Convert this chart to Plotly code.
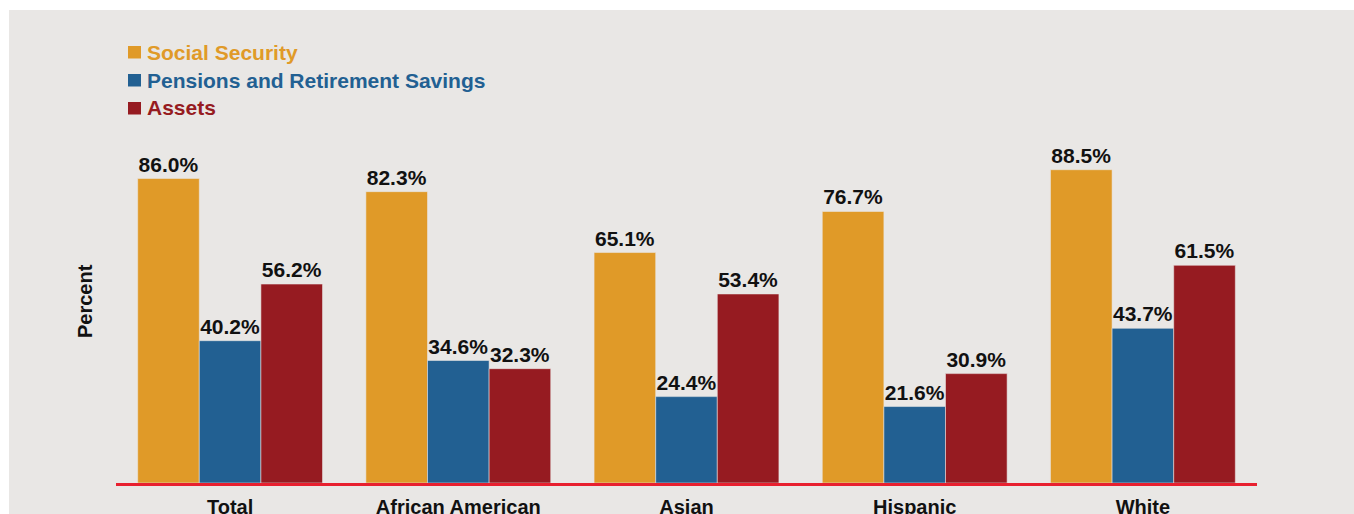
import plotly.graph_objects as go

# Share of older people receiving income from each source, by group
groups = ["Total", "African American", "Asian", "Hispanic", "White"]
social_security = [86.0, 82.3, 65.1, 76.7, 88.5]
pensions = [40.2, 34.6, 24.4, 21.6, 43.7]
assets = [56.2, 32.3, 53.4, 30.9, 61.5]
series_names = ["Social Security", "Pensions and Retirement Savings", "Assets"]

W, H = 1354, 514
ML, MR, MT, MB = 116, 97, 129, 31
PW, PH = W - ML - MR, H - MT - MB

ORANGE = "#E09A28"
BLUE = "#226092"
RED = "#961B21"
AXIS_RED = "#E8202F"
BG = "#E9E7E5"
FONT = "Liberation Sans, Arial, sans-serif"


def px_x(px):
    return (px - ML) / PW


def px_y(py):
    return (H - MB - py) / PH


fig = go.Figure()
for name, vals, col in zip(series_names, [social_security, pensions, assets],
                           [ORANGE, BLUE, RED]):
    fig.add_trace(go.Bar(
        x=groups, y=vals, name=name,
        marker=dict(color=col, line=dict(color="rgba(235,232,230,0.55)", width=1)),
        text=[f"<b>{v:.1f}%</b>" for v in vals],
        textposition="outside",
        textfont=dict(family=FONT, size=21, color="#111111"),
        constraintext="none",
        cliponaxis=False,
        showlegend=False,
    ))

shapes = [
    # grey panel behind the chart
    dict(type="rect", xref="paper", yref="paper", layer="below",
         x0=px_x(9), x1=px_x(W + 5), y0=px_y(H + 5), y1=px_y(10),
         fillcolor=BG, line=dict(width=0)),
]
annotations = []
legend_rows = [52, 80, 108]
for name, col, yc in zip(series_names, [ORANGE, BLUE, RED], legend_rows):
    shapes.append(dict(type="rect", xref="paper", yref="paper",
                       x0=px_x(128), x1=px_x(141), y0=px_y(yc + 6.5), y1=px_y(yc - 6),
                       fillcolor=col, line=dict(width=0)))
    annotations.append(dict(xref="paper", yref="paper", x=px_x(145), y=px_y(yc),
                            xanchor="left", yanchor="middle", showarrow=False,
                            text=f"<b>{name}</b>",
                            font=dict(family=FONT, size=21, color=col)))

annotations.append(dict(xref="paper", yref="paper", x=px_x(85), y=px_y(301),
                        xanchor="center", yanchor="middle", showarrow=False,
                        textangle=-90, text="<b>Percent</b>",
                        font=dict(family=FONT, size=20, color="#111111")))

fig.update_layout(
    width=W, height=H,
    margin=dict(l=ML, r=MR, t=MT, b=MB, pad=0, autoexpand=False),
    paper_bgcolor="white",
    plot_bgcolor=BG,
    barmode="group",
    bargap=0.19,
    bargroupgap=0,
    shapes=shapes,
    annotations=annotations,
    xaxis=dict(
        automargin=False,
        showline=True, linecolor=AXIS_RED, linewidth=3,
        showgrid=False, ticks="", zeroline=False,
        tickfont=dict(family=FONT, size=20, color="#111111"),
        ticklabelstandoff=4,
        tickvals=groups, ticktext=[f"<b>{g}</b>" for g in groups],
    ),
    yaxis=dict(range=[0, 100], visible=False, showgrid=False, zeroline=False,
               automargin=False),
)

fig.write_html("out.html")
